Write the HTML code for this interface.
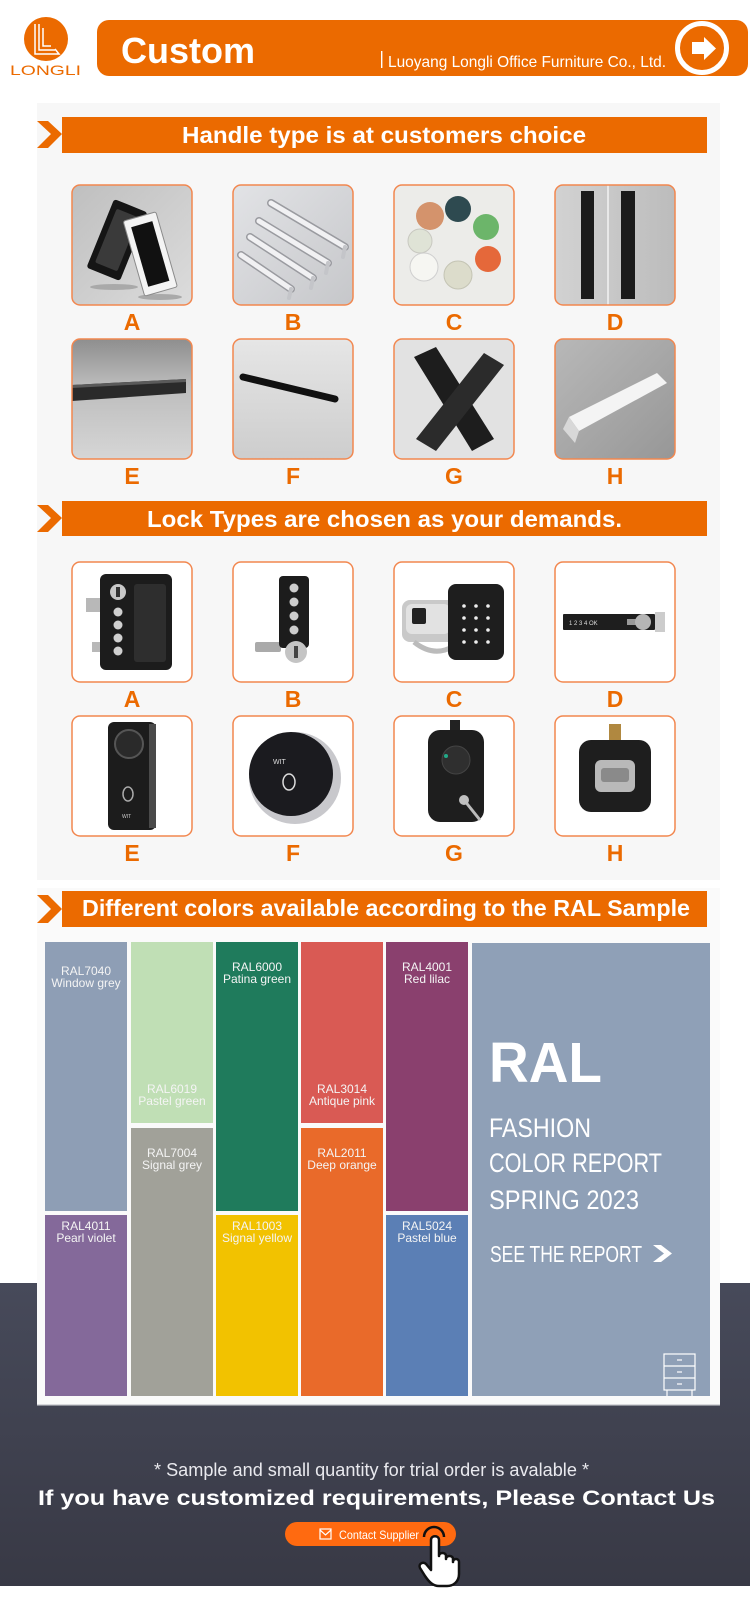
<!DOCTYPE html>
<html><head><meta charset="utf-8"><style>
html,body{margin:0;padding:0;background:#fff;width:750px;height:1607px;overflow:hidden}
svg{display:block}
text{font-family:"Liberation Sans",Arial,sans-serif}
</style></head><body>
<svg width="750" height="1607" viewBox="0 0 750 1607" xmlns="http://www.w3.org/2000/svg">
<defs>
 <linearGradient id="dark" x1="0" y1="0" x2="0" y2="1"><stop offset="0" stop-color="#474a5a"/><stop offset="1" stop-color="#383945"/></linearGradient>
 <linearGradient id="gA" x1="0" y1="0" x2="1" y2="1"><stop offset="0" stop-color="#bfbfbf"/><stop offset="1" stop-color="#dcdcdc"/></linearGradient>
 <linearGradient id="gB" x1="0" y1="0" x2="1" y2="1"><stop offset="0" stop-color="#e2e3e6"/><stop offset="1" stop-color="#c6c7ca"/></linearGradient>
 <linearGradient id="gD" x1="0" y1="0" x2="1" y2="0"><stop offset="0" stop-color="#d2d2d2"/><stop offset="1" stop-color="#bcbcbc"/></linearGradient>
 <linearGradient id="gE" x1="0" y1="0" x2="0" y2="1"><stop offset="0" stop-color="#8e8e8e"/><stop offset="0.4" stop-color="#bdbdbd"/><stop offset="1" stop-color="#d6d6d6"/></linearGradient>
 <linearGradient id="gF" x1="0" y1="0" x2="0" y2="1"><stop offset="0" stop-color="#e6e6e6"/><stop offset="1" stop-color="#cdcdcd"/></linearGradient>
 <linearGradient id="gH" x1="0" y1="0" x2="1" y2="1"><stop offset="0" stop-color="#b8b8b8"/><stop offset="1" stop-color="#979797"/></linearGradient>
 <clipPath id="cc"><rect width="120" height="120" rx="8"/></clipPath>
</defs>

<rect width="750" height="1607" fill="#fff"/>
<!-- dark footer -->
<rect x="0" y="1283" width="750" height="303" fill="url(#dark)"/>

<!-- ===== HEADER ===== -->
<circle cx="46" cy="39" r="22" fill="#EB6A00"/>
<g fill="none" stroke="#fff" stroke-width="1.5">
 <path d="M35,24 L35,54 L59,54 L55,49"/>
 <path d="M39,24 L39,50 L55,50"/>
 <path d="M43,28 L43,46 L51,46"/>
</g>
<text x="10" y="75" font-size="14" fill="#EB6A00" textLength="71" lengthAdjust="spacingAndGlyphs">LONGLI</text>

<rect x="97" y="20" width="651" height="56" rx="12" fill="#EB6A00"/>
<text x="121" y="63" font-size="36" font-weight="bold" fill="#fff" textLength="134" lengthAdjust="spacingAndGlyphs">Custom</text>
<rect x="381" y="51" width="1.4" height="17" fill="#fff"/>
<text x="388" y="67" font-size="16" fill="#fff" textLength="278" lengthAdjust="spacingAndGlyphs">Luoyang Longli Office Furniture Co., Ltd.</text>
<circle cx="702" cy="48" r="24.5" fill="#EB6A00" stroke="#fff" stroke-width="5"/>
<polygon points="692,42 704,42 704,37 716,48.5 704,60 704,54 692,54" fill="#fff"/>

<!-- ===== PANEL 1 ===== -->
<rect x="37" y="103" width="683" height="777" fill="#f7f7f7"/>

<!-- section header 1 -->
<polygon points="37,121 48,121 62,134 48,148 37,148 51,134" fill="#EB6A00"/>
<rect x="62" y="117" width="645" height="36" fill="#EB6A00"/>
<text x="182" y="143" font-size="23" font-weight="bold" fill="#fff" textLength="404" lengthAdjust="spacingAndGlyphs">Handle type is at customers choice</text>

<!-- Handle A -->
<svg x="72" y="185" width="120" height="120"><g clip-path="url(#cc)">
 <rect width="120" height="120" fill="url(#gA)"/>
 <ellipse cx="42" cy="102" rx="24" ry="3" fill="#a9a9a9"/>
 <ellipse cx="88" cy="112" rx="22" ry="3" fill="#a9a9a9"/>
 <g transform="rotate(22 45 55)"><rect x="27" y="18" width="36" height="74" rx="3" fill="#151515"/><rect x="33" y="26" width="24" height="58" rx="2" fill="#3a3a3a"/></g>
 <g transform="rotate(-16 78 68)"><rect x="61" y="30" width="34" height="78" rx="2" fill="#f4f4f4" stroke="#8a8a8a" stroke-width="1"/><rect x="67" y="38" width="22" height="62" fill="#111"/></g>
</g></svg>
<!-- Handle B -->
<svg x="233" y="185" width="120" height="120"><g clip-path="url(#cc)">
 <rect width="120" height="120" fill="url(#gB)"/>
 <g stroke-linecap="round">
  <line x1="38" y1="18" x2="112" y2="62" stroke="#9a9ba0" stroke-width="8"/><line x1="38" y1="18" x2="112" y2="62" stroke="#f1f1f3" stroke-width="5"/>
  <line x1="26" y1="36" x2="95" y2="78" stroke="#9a9ba0" stroke-width="8"/><line x1="26" y1="36" x2="95" y2="78" stroke="#f1f1f3" stroke-width="5"/>
  <line x1="17" y1="52" x2="80" y2="93" stroke="#9a9ba0" stroke-width="8"/><line x1="17" y1="52" x2="80" y2="93" stroke="#f1f1f3" stroke-width="5"/>
  <line x1="8" y1="70" x2="58" y2="104" stroke="#9a9ba0" stroke-width="8"/><line x1="8" y1="70" x2="58" y2="104" stroke="#f1f1f3" stroke-width="5"/>
  <g stroke="#c4c5c9" stroke-width="4"><line x1="112" y1="62" x2="110" y2="72"/><line x1="95" y1="78" x2="93" y2="88"/><line x1="80" y1="93" x2="78" y2="103"/><line x1="58" y1="104" x2="56" y2="113"/></g>
 </g>
</g></svg>
<!-- Handle C -->
<svg x="394" y="185" width="120" height="120"><g clip-path="url(#cc)">
 <rect width="120" height="120" fill="#ecece9"/>
 <circle cx="26" cy="56" r="12" fill="#dfe3d6" stroke="#c8c8c0"/>
 <circle cx="36" cy="31" r="14" fill="#d4936c"/>
 <circle cx="64" cy="24" r="13" fill="#2e4a50"/>
 <circle cx="92" cy="42" r="13" fill="#6cb56a"/>
 <circle cx="94" cy="74" r="13" fill="#e5683a"/>
 <circle cx="64" cy="90" r="14" fill="#dcdccb" stroke="#c4c4b4"/>
 <circle cx="30" cy="82" r="14" fill="#f6f6f2" stroke="#cfcfcf"/>
</g></svg>
<!-- Handle D -->
<svg x="555" y="185" width="120" height="120"><g clip-path="url(#cc)">
 <rect width="120" height="120" fill="url(#gD)"/>
 <rect x="52" y="0" width="2" height="120" fill="#e8e8e8"/>
 <rect x="26" y="6" width="13" height="108" fill="#1b1b1b"/>
 <rect x="66" y="6" width="14" height="108" fill="#1b1b1b"/>
</g></svg>

<!-- Handle E -->
<svg x="72" y="339" width="120" height="120"><g clip-path="url(#cc)">
 <rect width="120" height="120" fill="url(#gE)"/>
 <polygon points="0,46 114,40 114,54 0,62" fill="#2a2a2a"/>
 <polygon points="0,46 114,40 114,43 0,49" fill="#5a5a5a"/>
</g></svg>
<!-- Handle F -->
<svg x="233" y="339" width="120" height="120"><g clip-path="url(#cc)">
 <rect width="120" height="120" fill="url(#gF)"/>
 <line x1="10" y1="38" x2="102" y2="60" stroke="#111" stroke-width="7" stroke-linecap="round"/>
</g></svg>
<!-- Handle G -->
<svg x="394" y="339" width="120" height="120"><g clip-path="url(#cc)">
 <rect width="120" height="120" fill="#e2e2e2"/>
 <polygon points="20,18 42,8 100,100 78,112" fill="#1d1d1d"/>
 <polygon points="90,14 110,26 42,112 22,100" fill="#2b2b2b"/>
</g></svg>
<!-- Handle H -->
<svg x="555" y="339" width="120" height="120"><g clip-path="url(#cc)">
 <rect width="120" height="120" fill="url(#gH)"/>
 <polygon points="14,78 102,34 112,44 24,92" fill="#f4f4f4"/>
 <polygon points="14,78 24,92 20,104 8,90" fill="#d8d8d8"/>
</g></svg>

<g fill="none" stroke="#F2874F" stroke-width="1.5">
 <rect x="72" y="185" width="120" height="120" rx="8"/><rect x="233" y="185" width="120" height="120" rx="8"/>
 <rect x="394" y="185" width="120" height="120" rx="8"/><rect x="555" y="185" width="120" height="120" rx="8"/>
 <rect x="72" y="339" width="120" height="120" rx="8"/><rect x="233" y="339" width="120" height="120" rx="8"/>
 <rect x="394" y="339" width="120" height="120" rx="8"/><rect x="555" y="339" width="120" height="120" rx="8"/>
</g>
<g font-size="23" font-weight="bold" fill="#EB6A00" text-anchor="middle">
 <text x="132" y="330">A</text><text x="293" y="330">B</text><text x="454" y="330">C</text><text x="615" y="330">D</text>
 <text x="132" y="484">E</text><text x="293" y="484">F</text><text x="454" y="484">G</text><text x="615" y="484">H</text>
</g>

<!-- section header 2 -->
<polygon points="37,505 48,505 62,518 48,532 37,532 51,518" fill="#EB6A00"/>
<rect x="62" y="501" width="645" height="35" fill="#EB6A00"/>
<text x="147" y="527" font-size="23" font-weight="bold" fill="#fff" textLength="475" lengthAdjust="spacingAndGlyphs">Lock Types are chosen as your demands.</text>

<!-- Lock A -->
<svg x="72" y="562" width="120" height="120"><g clip-path="url(#cc)">
 <rect width="120" height="120" fill="#fff"/>
 <rect x="14" y="36" width="18" height="14" fill="#b8b8b8"/>
 <rect x="20" y="80" width="12" height="10" fill="#b8b8b8"/>
 <rect x="28" y="12" width="72" height="96" rx="6" fill="#1c1c1c"/>
 <rect x="62" y="22" width="32" height="78" rx="3" fill="#2e2e2e"/>
 <circle cx="46" cy="30" r="8" fill="#c8c8c8"/><rect x="44" y="25" width="4" height="10" fill="#333"/>
 <g fill="#d0d0d0"><circle cx="46" cy="50" r="4.5"/><circle cx="46" cy="63" r="4.5"/><circle cx="46" cy="76" r="4.5"/><circle cx="46" cy="89" r="4.5"/></g>
</g></svg>
<!-- Lock B -->
<svg x="233" y="562" width="120" height="120"><g clip-path="url(#cc)">
 <rect width="120" height="120" fill="#fff"/>
 <rect x="22" y="80" width="26" height="10" rx="2" fill="#aaa"/>
 <rect x="46" y="14" width="30" height="72" rx="4" fill="#1c1c1c"/>
 <g fill="#ccc"><circle cx="61" cy="26" r="4.5"/><circle cx="61" cy="40" r="4.5"/><circle cx="61" cy="54" r="4.5"/><circle cx="61" cy="68" r="4.5"/></g>
 <circle cx="63" cy="90" r="11" fill="#c4c4c4"/><rect x="61" y="84" width="4" height="12" fill="#444"/>
</g></svg>
<!-- Lock C -->
<svg x="394" y="562" width="120" height="120"><g clip-path="url(#cc)">
 <rect width="120" height="120" fill="#fff"/>
 <rect x="8" y="38" width="55" height="42" rx="8" fill="#c9c9c9"/>
 <rect x="12" y="42" width="44" height="30" rx="6" fill="#e2e2e2"/>
 <rect x="18" y="46" width="14" height="16" rx="2" fill="#222"/>
 <path d="M20,80 Q40,96 60,84" stroke="#bbb" stroke-width="5" fill="none"/>
 <rect x="54" y="22" width="56" height="76" rx="8" fill="#1e1e1e"/>
 <g fill="#eee"><circle cx="70" cy="44" r="1.8"/><circle cx="82" cy="44" r="1.8"/><circle cx="94" cy="44" r="1.8"/><circle cx="70" cy="56" r="1.8"/><circle cx="82" cy="56" r="1.8"/><circle cx="94" cy="56" r="1.8"/><circle cx="70" cy="68" r="1.8"/><circle cx="82" cy="68" r="1.8"/><circle cx="94" cy="68" r="1.8"/><circle cx="70" cy="80" r="1.8"/><circle cx="82" cy="80" r="1.8"/><circle cx="94" cy="80" r="1.8"/></g>
</g></svg>
<!-- Lock D -->
<svg x="555" y="562" width="120" height="120"><g clip-path="url(#cc)">
 <rect width="120" height="120" fill="#fff"/>
 <rect x="100" y="50" width="10" height="20" fill="#ccc"/>
 <rect x="8" y="52" width="92" height="16" rx="1" fill="#1e1e1e"/>
 <text x="14" y="63" font-size="6" fill="#ddd">1  2  3  4  OK</text>
 <rect x="72" y="57" width="14" height="6" fill="#999"/>
 <circle cx="88" cy="60" r="8" fill="#b5b5b5"/>
</g></svg>

<!-- Lock E -->
<svg x="72" y="716" width="120" height="120"><g clip-path="url(#cc)">
 <rect width="120" height="120" fill="#fff"/>
 <rect x="36" y="6" width="48" height="108" rx="6" fill="#1c1c1c"/>
 <rect x="77" y="8" width="7" height="104" fill="#4a4a4a"/>
 <circle cx="57" cy="28" r="14" fill="#2a2a2a" stroke="#555" stroke-width="2"/>
 <ellipse cx="56" cy="78" rx="5" ry="7" fill="none" stroke="#aaa" stroke-width="1.5"/>
 <text x="50" y="102" font-size="5" fill="#ccc">WIT</text>
</g></svg>
<!-- Lock F -->
<svg x="233" y="716" width="120" height="120"><g clip-path="url(#cc)">
 <rect width="120" height="120" fill="#fff"/>
 <circle cx="62" cy="62" r="46" fill="#c8c8cc"/>
 <circle cx="58" cy="58" r="42" fill="#1b1b1f"/>
 <text x="40" y="48" font-size="7" fill="#ddd">WIT</text>
 <ellipse cx="56" cy="66" rx="6" ry="8" fill="none" stroke="#ddd" stroke-width="1.5"/>
</g></svg>
<!-- Lock G -->
<svg x="394" y="716" width="120" height="120"><g clip-path="url(#cc)">
 <rect width="120" height="120" fill="#fff"/>
 <rect x="56" y="4" width="10" height="12" fill="#222"/>
 <rect x="34" y="14" width="56" height="92" rx="12" fill="#1e1e1e"/>
 <circle cx="62" cy="44" r="14" fill="#2f2f2f" stroke="#444"/>
 <circle cx="52" cy="40" r="2" fill="#2a8"/>
 <line x1="70" y1="84" x2="86" y2="104" stroke="#bbb" stroke-width="3"/>
 <circle cx="70" cy="84" r="5" fill="#c0c0c0"/>
</g></svg>
<!-- Lock H -->
<svg x="555" y="716" width="120" height="120"><g clip-path="url(#cc)">
 <rect width="120" height="120" fill="#fff"/>
 <rect x="54" y="8" width="12" height="22" fill="#b08840"/>
 <rect x="24" y="24" width="72" height="72" rx="12" fill="#1e1e1e"/>
 <rect x="40" y="44" width="40" height="32" rx="6" fill="#b9b9b9"/>
 <rect x="46" y="52" width="28" height="14" rx="3" fill="#8a8a8a"/>
</g></svg>

<g fill="none" stroke="#F2874F" stroke-width="1.5">
 <rect x="72" y="562" width="120" height="120" rx="8"/><rect x="233" y="562" width="120" height="120" rx="8"/>
 <rect x="394" y="562" width="120" height="120" rx="8"/><rect x="555" y="562" width="120" height="120" rx="8"/>
 <rect x="72" y="716" width="120" height="120" rx="8"/><rect x="233" y="716" width="120" height="120" rx="8"/>
 <rect x="394" y="716" width="120" height="120" rx="8"/><rect x="555" y="716" width="120" height="120" rx="8"/>
</g>
<g font-size="23" font-weight="bold" fill="#EB6A00" text-anchor="middle">
 <text x="132" y="707">A</text><text x="293" y="707">B</text><text x="454" y="707">C</text><text x="615" y="707">D</text>
 <text x="132" y="861">E</text><text x="293" y="861">F</text><text x="454" y="861">G</text><text x="615" y="861">H</text>
</g>

<!-- ===== PANEL 2 ===== -->
<rect x="37" y="888" width="683" height="517" fill="#fafafa"/>
<rect x="37" y="1404" width="683" height="1.5" fill="#d8d8dc"/>
<polygon points="37,895 48,895 62,909 48,923 37,923 51,909" fill="#EB6A00"/>
<rect x="62" y="891" width="645" height="36" fill="#EB6A00"/>
<text x="82" y="916" font-size="23" font-weight="bold" fill="#fff" textLength="608" lengthAdjust="spacingAndGlyphs">Different colors available according to the RAL Sample</text>

<!-- swatches -->
<rect x="45" y="942" width="82" height="269" fill="#8E9EB5"/>
<rect x="45" y="1215" width="82" height="181" fill="#84699A"/>
<rect x="131" y="942" width="82" height="181" fill="#C0DFB5"/>
<rect x="131" y="1128" width="82" height="268" fill="#A1A199"/>
<rect x="216" y="942" width="82" height="269" fill="#1F7B5C"/>
<rect x="216" y="1215" width="82" height="181" fill="#F2C200"/>
<rect x="301" y="942" width="82" height="181" fill="#D95A54"/>
<rect x="301" y="1128" width="82" height="268" fill="#E96A2A"/>
<rect x="386" y="942" width="82" height="269" fill="#8A406E"/>
<rect x="386" y="1215" width="82" height="181" fill="#5B7FB5"/>
<rect x="472" y="943" width="238" height="453" fill="#8FA0B7"/>

<g font-size="12" fill="#f4f4f4" text-anchor="middle">
 <text x="86" y="975">RAL7040</text><text x="86" y="987">Window grey</text>
 <text x="172" y="1093">RAL6019</text><text x="172" y="1105">Pastel green</text>
 <text x="257" y="971">RAL6000</text><text x="257" y="983">Patina green</text>
 <text x="342" y="1093">RAL3014</text><text x="342" y="1105">Antique pink</text>
 <text x="427" y="971">RAL4001</text><text x="427" y="983">Red lilac</text>
 <text x="172" y="1157">RAL7004</text><text x="172" y="1169">Signal grey</text>
 <text x="342" y="1157">RAL2011</text><text x="342" y="1169">Deep orange</text>
 <text x="86" y="1230">RAL4011</text><text x="86" y="1242">Pearl violet</text>
 <text x="257" y="1230">RAL1003</text><text x="257" y="1242">Signal yellow</text>
 <text x="427" y="1230">RAL5024</text><text x="427" y="1242">Pastel blue</text>
</g>

<!-- RAL panel text -->
<text x="489" y="1082" font-size="57" font-weight="bold" fill="#fff" textLength="113" lengthAdjust="spacingAndGlyphs">RAL</text>
<g font-size="27" fill="#fff">
 <text x="489" y="1137" textLength="102" lengthAdjust="spacingAndGlyphs">FASHION</text>
 <text x="489" y="1172" textLength="173" lengthAdjust="spacingAndGlyphs">COLOR REPORT</text>
 <text x="489" y="1209" textLength="150" lengthAdjust="spacingAndGlyphs">SPRING 2023</text>
</g>
<text x="490" y="1262" font-size="23" fill="#fff" textLength="152" lengthAdjust="spacingAndGlyphs">SEE THE REPORT</text>
<polygon points="653,1245 661,1245 672,1253.5 661,1262 653,1262 664,1253.5" fill="#fff"/>
<g fill="none" stroke="#fff" stroke-width="1.2">
 <rect x="664" y="1354" width="31" height="36"/>
 <line x1="664" y1="1366" x2="695" y2="1366"/><line x1="664" y1="1378" x2="695" y2="1378"/>
 <line x1="677" y1="1360" x2="682" y2="1360"/><line x1="677" y1="1372" x2="682" y2="1372"/><line x1="677" y1="1384" x2="682" y2="1384"/>
 <line x1="667" y1="1390" x2="667" y2="1396"/><line x1="692" y1="1390" x2="692" y2="1396"/>
</g>

<!-- ===== FOOTER ===== -->
<text x="154" y="1476" font-size="18" fill="#e9e9ee" textLength="435" lengthAdjust="spacingAndGlyphs">* Sample and small quantity for trial order is avalable *</text>
<text x="38" y="1505" font-size="21" font-weight="bold" fill="#fff" textLength="677" lengthAdjust="spacingAndGlyphs">If you have customized requirements, Please Contact Us</text>
<rect x="285" y="1522" width="171" height="24" rx="12" fill="#FF6A10"/>
<g fill="none" stroke="#fff" stroke-width="1.2">
 <rect x="320" y="1529" width="11" height="10"/>
 <path d="M320,1530 L325.5,1535 L331,1530"/>
</g>
<text x="339" y="1539" font-size="12" fill="#fff" textLength="80" lengthAdjust="spacingAndGlyphs">Contact Supplier</text>
<g transform="translate(418,1530)">
 <path d="M6,7 A10,10 0 0 1 26,7" fill="none" stroke="#111" stroke-width="2.5"/>
 <path d="M13,40 L13,10 C13,5 21,5 21,10 L21,26 C21,22 28,22 28,26 L28,29 C28,25 35,25 35,29 L35,32 C35,28 41,28 41,32 L41,44 C41,52 35,56 29,56 L21,56 C15,56 11,52 7,46 L2,38 C0,34 5,31 8,34 Z" fill="#fff" stroke="#111" stroke-width="2.5" stroke-linejoin="round"/>
</g>
</svg>
</body></html>
